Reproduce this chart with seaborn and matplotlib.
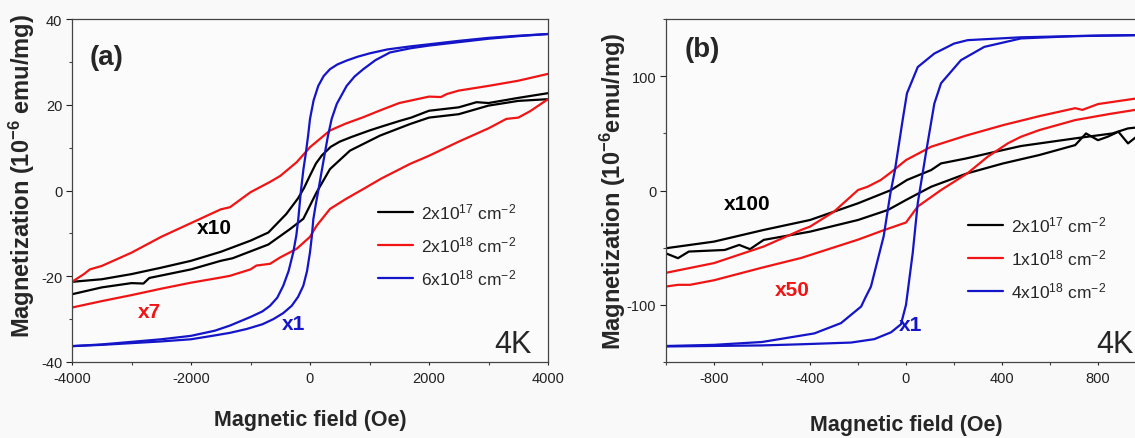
import pandas as pd
import seaborn as sns
import matplotlib
matplotlib.use("Agg")
import matplotlib.pyplot as plt
from matplotlib.ticker import MultipleLocator

# ---- panel (a): field in Oe, magnetization in 1e-6 emu/mg ----
a_black_dn_h = [-4000, -3500, -3000, -2500, -2000, -1500, -1000, -700, -400, -200, -100, 0, 100, 200, 350, 500, 700, 1000, 1200, 1500, 1700, 2000, 2500, 2800, 3000, 3500, 4000]
a_black_dn_m = [-21.3, -20.7, -19.5, -18.0, -16.4, -14.3, -11.7, -9.8, -5.5, -1.8, 0.6, 3.5, 6.3, 8.2, 10.2, 11.4, 12.5, 14.0, 14.9, 16.2, 17.0, 18.6, 19.4, 20.6, 20.4, 21.6, 22.7]
a_black_up_h = [-4000, -3500, -3000, -2800, -2700, -2000, -1500, -1300, -1000, -700, -336, -112, 0, 112, 336, 672, 1176, 1681, 2000, 2500, 3000, 3500, 4000]
a_black_up_m = [-24.2, -22.6, -21.6, -21.7, -20.4, -18.4, -16.4, -15.8, -14.2, -12.6, -9.0, -6.6, -3.5, -0.4, 5.0, 9.3, 12.8, 15.5, 17.0, 17.8, 19.8, 20.9, 21.3]

a_red_dn_h = [-4000, -3800, -3700, -3500, -3000, -2500, -2000, -1500, -1345, -1000, -672, -500, -224, 0, 336, 600, 896, 1200, 1500, 2000, 2200, 2300, 2500, 3000, 3500, 4000]
a_red_dn_m = [-21.3, -19.5, -18.4, -17.6, -14.5, -10.8, -7.6, -4.4, -3.9, -0.4, 2.0, 3.4, 6.6, 10.1, 14.0, 15.6, 17.1, 18.8, 20.4, 21.9, 21.8, 22.5, 23.3, 24.4, 25.6, 27.2]
a_red_up_h = [-4000, -3500, -3000, -2500, -2000, -1500, -1345, -1000, -900, -672, -500, -224, 0, 112, 336, 600, 896, 1200, 1681, 2000, 2500, 3000, 3300, 3500, 3700, 4000]
a_red_up_m = [-27.3, -25.8, -24.4, -22.9, -21.5, -20.3, -19.9, -18.4, -17.5, -17.1, -15.6, -13.6, -10.8, -8.2, -4.3, -2.0, 0.35, 2.8, 6.2, 8.1, 11.4, 14.5, 16.7, 17.0, 18.5, 21.3]

a_blue_dn_h = [-4000, -3500, -3000, -2500, -2000, -1600, -1345, -1000, -800, -673, -550, -449, -360, -281, -230, -197, -152, -110, -68, -30, 0, 60, 139, 230, 336, 460, 615, 800, 1007, 1300, 1680, 2000, 2500, 3000, 3500, 4000]
a_blue_dn_m = [-36.3, -35.9, -35.3, -34.7, -33.9, -32.7, -31.5, -29.5, -28.2, -26.9, -25.0, -22.2, -18.8, -14.4, -10.5, -6.7, 0.0, 5.0, 8.9, 13.0, 16.7, 21.0, 24.4, 26.7, 28.3, 29.4, 30.3, 31.2, 32.0, 32.9, 33.6, 34.1, 34.9, 35.6, 36.1, 36.5]
a_blue_up_h = [-4000, -3500, -3000, -2500, -2000, -1600, -1345, -1064, -800, -616, -450, -308, -200, -112, -50, 0, 30, 56, 100, 140, 200, 252, 300, 364, 450, 616, 750, 896, 1100, 1344, 1700, 2000, 2500, 3000, 3500, 4000]
a_blue_up_m = [-36.3, -36.0, -35.6, -35.2, -34.7, -33.8, -33.2, -32.3, -31.2, -30.0, -28.6, -26.9, -24.8, -22.2, -18.8, -14.4, -10.8, -6.7, -3.0, 0.0, 4.8, 8.9, 12.6, 16.7, 20.2, 24.4, 26.6, 28.3, 30.4, 32.2, 33.2, 33.8, 34.6, 35.4, 36.0, 36.5]

# ---- panel (b) ----
b_black_dn_h = [-1000, -800, -593, -400, -200, -62, 4, 105, 146, 250, 396, 479, 705, 860, 925, 1000]
b_black_dn_m = [-50.5, -44.7, -34.5, -25.8, -11.2, 0.4, 9.2, 17.9, 23.7, 28.0, 35.0, 38.9, 45.6, 49.9, 54.3, 56.0]
b_black_up_h = [-1000, -950, -905, -755, -695, -650, -593, -400, -200, -75, 0, 105, 255, 405, 555, 705, 750, 800, 840, 885, 925, 960, 1000]
b_black_up_m = [-55.0, -59.2, -53.4, -52.0, -47.6, -51.3, -43.2, -36.0, -25.8, -17.0, -8.3, 3.3, 15.0, 23.7, 31.0, 39.7, 49.9, 44.0, 47.0, 51.4, 41.2, 47.0, 52.0]

b_red_dn_h = [-1000, -800, -593, -437, -400, -300, -200, -160, -105, -62, 0, 105, 250, 405, 555, 705, 735, 800, 960, 1000]
b_red_dn_m = [-72.0, -63.5, -49.0, -34.5, -31.6, -18.5, 0.4, 3.3, 9.2, 16.0, 26.6, 38.3, 48.0, 57.2, 65.0, 72.0, 70.5, 75.6, 80.5, 81.5]
b_red_up_h = [-1000, -950, -900, -800, -600, -437, -200, -90, 0, 49, 146, 257, 340, 424, 479, 555, 705, 850, 1000]
b_red_up_m = [-84.0, -82.5, -82.5, -78.5, -67.5, -59.0, -43.0, -34.5, -28.0, -14.0, 0.4, 15.2, 29.5, 41.2, 47.0, 52.8, 61.6, 67.0, 72.0]

b_blue_dn_h = [-1000, -800, -600, -382, -271, -187, -170, -146, -93, -65, -46, -14, 4, 49, 118, 200, 257, 479, 800, 1000]
b_blue_dn_m = [-136.0, -135.0, -132.5, -125.0, -116.0, -101.5, -94.0, -84.0, -40.0, -2.5, 17.9, 61.6, 85.0, 108.0, 119.8, 128.5, 131.5, 134.0, 135.5, 136.0]
b_blue_up_h = [-1000, -600, -437, -229, -132, -62, -21, 0, 28, 49, 83, 118, 146, 229, 326, 479, 700, 1000]
b_blue_up_m = [-136.4, -135.5, -134.5, -133.0, -130.0, -124.0, -117.0, -100.0, -54.6, -11.0, 32.7, 76.0, 93.8, 114.0, 125.6, 133.0, 135.0, 136.0]

a_labels = ["2x10$^{17}$ cm$^{-2}$", "2x10$^{18}$ cm$^{-2}$", "6x10$^{18}$ cm$^{-2}$"]
b_labels = ["2x10$^{17}$ cm$^{-2}$", "1x10$^{18}$ cm$^{-2}$", "4x10$^{18}$ cm$^{-2}$"]
colors = ["black", "#f01414", "#1414c8"]

sns.set_style("ticks")
plt.rcParams["font.family"] = ["Liberation Sans", "DejaVu Sans"]
plt.rcParams["mathtext.default"] = "regular"
plt.rcParams["axes.unicode_minus"] = False

fig = plt.figure(figsize=(11.35, 4.39), dpi=100, facecolor="#f9f9f9")
ax1 = fig.add_axes([72 / 1135, 76 / 439, 476 / 1135, 343 / 439])
ax2 = fig.add_axes([666 / 1135, 76 / 439, 480 / 1135, 343 / 439])


def draw(ax, loops, labels):
    for (dn_h, dn_m, up_h, up_m), lab, col in zip(loops, labels, colors):
        sns.lineplot(x=dn_h, y=dn_m, ax=ax, color=col, lw=1.6, sort=False, label=lab)
        sns.lineplot(x=up_h, y=up_m, ax=ax, color=col, lw=1.6, sort=False)


draw(ax1, [(a_black_dn_h, a_black_dn_m, a_black_up_h, a_black_up_m),
           (a_red_dn_h, a_red_dn_m, a_red_up_h, a_red_up_m),
           (a_blue_dn_h, a_blue_dn_m, a_blue_up_h, a_blue_up_m)], a_labels)
draw(ax2, [(b_black_dn_h, b_black_dn_m, b_black_up_h, b_black_up_m),
           (b_red_dn_h, b_red_dn_m, b_red_up_h, b_red_up_m),
           (b_blue_dn_h, b_blue_dn_m, b_blue_up_h, b_blue_up_m)], b_labels)

ax1.set_xlim(-4000, 4000)
ax1.set_ylim(-40, 40)
ax1.xaxis.set_major_locator(MultipleLocator(2000))
ax1.xaxis.set_minor_locator(MultipleLocator(1000))
ax1.yaxis.set_major_locator(MultipleLocator(20))
ax1.yaxis.set_minor_locator(MultipleLocator(10))

ax2.set_xlim(-1000, 1000)
ax2.set_ylim(-150, 150)
ax2.xaxis.set_major_locator(MultipleLocator(400))
ax2.xaxis.set_minor_locator(MultipleLocator(200))
ax2.yaxis.set_major_locator(MultipleLocator(100))
ax2.yaxis.set_minor_locator(MultipleLocator(50))

for ax in (ax1, ax2):
    ax.set_facecolor("#fbfbfb")
    for s in ax.spines.values():
        s.set_visible(True)
        s.set_color("#444444")
        s.set_linewidth(0.9)
    ax.tick_params(axis="x", which="major", length=2.5, width=0.8, pad=4, labelsize=10.5, colors="#222222")
    ax.tick_params(axis="x", which="minor", length=2.2, width=0.8, colors="#444444")
    ax.tick_params(axis="y", which="major", length=4.5, width=0.8, pad=2.5, labelsize=10.5, colors="#222222")
    ax.tick_params(axis="y", which="minor", length=2.5, width=0.8, colors="#444444")

ax1.set_xlabel("Magnetic field (Oe)", fontsize=15.5, fontweight="bold", labelpad=17)
ax2.set_xlabel("Magnetic field (Oe)", fontsize=15.5, fontweight="bold", labelpad=21)
ax1.set_ylabel("Magnetization (10$^{-6}$ emu/mg)", fontsize=17, fontweight="bold")
ax2.set_ylabel("Magnetization (10$^{-6}$emu/mg)", fontsize=17, fontweight="bold")
ax1.yaxis.set_label_coords(-0.074, 0.544)
ax2.yaxis.set_label_coords(-0.079, 0.50)

leg_kw = dict(loc="upper left", frameon=False, fontsize=12.5, handlelength=2.0,
              handletextpad=0.5, labelspacing=0.75, borderaxespad=0, borderpad=0)
ax1.legend(bbox_to_anchor=(0.643, 0.468), **leg_kw)
ax2.legend(bbox_to_anchor=(0.629, 0.43), **leg_kw)

ax1.text(0.0725, 0.89, "(a)", transform=ax1.transAxes, fontsize=20, fontweight="bold", ha="center", va="center")
ax2.text(0.075, 0.912, "(b)", transform=ax2.transAxes, fontsize=20, fontweight="bold", ha="center", va="center")
ax1.text(0.887, 0.03, "4K", transform=ax1.transAxes, fontsize=22, va="baseline")
ax2.text(0.896, 0.03, "4K", transform=ax2.transAxes, fontsize=22, va="baseline")

ax1.text(-1613, -8.7, "x10", color=colors[0], fontsize=15, fontweight="bold", ha="center", va="center")
ax1.text(-2706, -28.3, "x7", color=colors[1], fontsize=15, fontweight="bold", ha="center", va="center")
ax1.text(-269, -31.1, "x1", color=colors[2], fontsize=15, fontweight="bold", ha="center", va="center")
ax2.text(-662, -11.4, "x100", color=colors[0], fontsize=15, fontweight="bold", ha="center", va="center")
ax2.text(-475, -86.9, "x50", color=colors[1], fontsize=15, fontweight="bold", ha="center", va="center")
ax2.text(21, -117, "x1", color=colors[2], fontsize=15, fontweight="bold", ha="center", va="center")

fig.savefig("out.png", dpi=100, facecolor=fig.get_facecolor())
